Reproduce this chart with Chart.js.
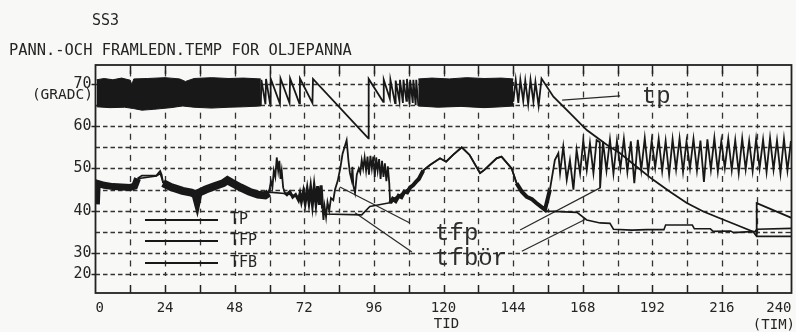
<!DOCTYPE html>
<html><head><meta charset="utf-8">
<script src="https://cdn.jsdelivr.net/npm/chart.js@4/dist/chart.umd.min.js"></script>
<style>html,body{margin:0;padding:0;background:#f8f8f6}#wrap{width:796px;height:332px}</style>
</head><body><div id="wrap"><canvas id="c" width="796" height="332"></canvas></div>
<script>
// ---------- data (hours, °C) ----------
const hourTicks = [0,12,24,36,48,60,72,84,96,108,120,132,144,156,168,180,192,204,216,228,240];
const hourLabels = [0,24,48,72,96,120,144,168,192,216,240];
const tempTicks = [25,30,40,50,60,70];
const tempTickLabels = ['20','30','40','50','60','70'];
const gridTemps = [25,30,35,40,45,50,55,60,65,70];

// TP: densely oscillating periods, read as envelopes
const tpBandAUpper = [[0.4,71],[3,71.3],[6,71],[9,71.4],[12,70.9],[12.5,69.8],[13.2,71.2],[18,71.3],[24,71.5],[29,71.2],[31,70.6],[34,71.3],[40,71.5],[46,71.3],[51,71.4],[57,71.2]];
const tpBandALower = [[0.4,64.6],[5,64.4],[10,64.5],[13,64.2],[16,63.8],[20,64],[26,64.4],[30,64.8],[34,64.5],[40,64.3],[46,64.5],[51,64.6],[57,64.8]];
const tpBandBUpper = [[111.3,71.2],[116,71.4],[122,71.2],[128,71.5],[134,71.3],[140,71.4],[144.1,71.2]];
const tpBandBLower = [[111.3,64.8],[118,64.5],[126,64.7],[134,64.4],[140,64.6],[144.1,64.8]];
// TP: visible sawtooth and cooling curve
const tpPoints = [[57,64.8],[57.2,71],[58.6,65.2],[58.8,71.2],[60.2,65.3],[60.4,71.3],[63.6,65.3],[63.8,71.3],[66.9,65.5],[67.1,71.3],[70.3,65.4],[70.5,71.3],[74.8,65.5],[75,71.2],[94.1,57.1],[94.2,71.2],[99.2,65.8],[99.4,71],[101.5,66.5],[101.7,71],[103.3,65.5],[103.5,70.8],[104.8,66],[105,71],[106,65.5],[106.2,71],[107.2,66],[107.4,71.2],[108.3,65.2],[108.5,71],[109.4,65.5],[109.6,71],[110.4,65],[110.6,71],[111.3,65],
[144.1,66],[144.9,71],[145.8,65.5],[146.5,71],[147.5,66],[148.2,70.8],[149.2,65.2],[150,71],[151,65.8],[151.7,70.5],[152.8,64.8],[153.8,71.3],
[157.9,67],[163.6,63.1],[169.4,59.1],[176.3,55.6],[180.9,53.6],[186.6,50.4],[192.3,47.3],[198.1,44.5],[203.9,41.8],[209.6,39.8],[215.3,38.2],[221.1,36.6],[226.8,35],[228,33.9],[240,33.9],[240,null],[228,33.9],[228,41.8],[240,38.3]];

// TFP
const tfpPoints = [[0.3,41.5],[0.6,46.5],[3,46],[6,45.7],[9,45.6],[12,45.5],[13.5,45.8],[14.5,47.6],[16,48.3],[21,48.3],[22.3,49.4],[22.8,48.5],[23.3,46.5],[26,45.6],[30,44.7],[33,44.3],[34.5,43.8],[35,42.5],[35.5,44.2],[38,45],[41,45.8],[44,46.5],[45.5,47.2],[47,46.6],[50,45.5],[53,44.5],[56,43.8],[58.5,43.6],[59.8,44.2],
[60.5,47],[61,45.5],[61.5,49.5],[62,48],[62.5,52.6],[63,49.5],[63.4,51.8],[63.8,47.5],[64.2,49.5],[64.7,45.5],[65.3,44.2],
[66,43.8],[67,44.5],[68,43.2],[69,43.8],[70,42.5],[70.5,44],[71,42.2],[71.7,44.5],[72.3,41.8],[73,45],[73.6,42],[74.2,45.3],[74.8,41.5],[75.4,45.5],[76,41.8],[76.6,45.8],[77.2,41.4],[77.8,46],[78.3,40.5],[78.6,37.8],[79,41],[79.5,38.5],[80,42],[80.6,40],[81.2,43],[82,42.5],[82.6,45],[83.5,47],[84.4,50],[85.2,53.5],[86.6,56.7],[87.2,52],[87.7,49],[88.3,47.3],[88.6,50.4],[88.9,46],[89.5,44.2],[90.1,48.5],[90.8,50],[91.3,49],[91.8,52],[92.3,50],[92.8,52.6],[93.3,49.5],[93.8,52.8],[94.3,48.5],[94.8,53],[95.3,50],[95.8,52.8],[96.3,48],[96.8,52.6],[97.3,49.5],[97.8,52.2],[98.3,47.5],[98.8,51.8],[99.3,48],[99.8,51.2],[100.3,47],[100.8,50.5],[101.3,46.5],[101.6,41.8],
[102.5,42.8],[103.5,42.3],[104.5,43.5],[105.5,43.2],[106.5,44.5],[107.5,44.3],[108.5,45.5],[109.5,46],[110.5,46.8],[111.5,47.5],[113,49.5],[115.3,50.8],[118.8,52.4],[120.9,51.6],[123.3,53.2],[126.3,55],[129,53.2],[132.6,48.9],[134,49.6],[138.3,52.4],[140,52.8],[143.5,50],[145.2,46.5],[147,44.5],[148.7,43.3],[150.5,42.7],[152,41.8],[153.5,41],[155,40.2],
[156.7,45],[158.4,52],[159.6,53.6],[160.2,48.9],[161.3,55.2],[162.5,47.3],[163.6,52],[164.8,45],[165.9,54.4],[167.1,48.9],[168.2,56.7],[169.4,49.6],[170.5,56],[171.7,48.9],[172.8,56.7],[173.9,56.2],[174,45.3],
[175,56.3],[176.2,49.5],[177.4,56.8],[178.6,48.8],[179.8,56.5],[181,50],[182.2,57],[183.4,49.2],[184.6,56.4],[185.8,46.5],[187,56.8],[188.2,49.6],[189.4,57.2],[190.6,49],[191.8,56.6],[193,50.2],[194.2,57],[195.4,49.4],[196.6,56.5],[197.8,48.5],[199,56.9],[200.2,49.8],[201.4,57.1],[202.6,49.2],[203.8,56.4],[205,50],[206.2,57],[207.4,49.5],[208.6,56.6],[209.8,46.8],[211,56.9],[212.2,49.7],[213.4,57.2],[214.6,49.3],[215.8,56.5],[217,50.1],[218.2,57],[219.4,49.6],[220.6,56.7],[221.8,48.9],[223,57.1],[224.2,49.8],[225.4,56.5],[226.6,49.4],[227.8,57],[229,50],[230.2,56.8],[231.4,49.2],[232.6,57.2],[233.8,49.7],[235,56.6],[236.2,48.8],[237.4,57],[238.6,49.5],[239.8,56.5]];

// TFB (börvärde)
const tfbPoints = [[0.6,46],[5,45.8],[10,45.6],[13.5,45.8],[15,47.6],[21,48.2],[22.3,48.8],[23.3,46.8],[28,45.4],[34,44.3],[38,44.8],[42,45.8],[45.5,47],[50,45.2],[55,44.2],[60,44.4],[66,44],[70,43.3],[75,43],[77.8,43],[79,39.2],[91.8,39],[94.6,41],[101,41.8],[101.6,41.8],[102.5,42.8],[104.5,43.5],[106.5,44.5],[108.5,45.5],[110.5,46.8],[113,49.5],[115.3,50.8],[118.8,52.4],[120.9,51.6],[123.3,53.2],[126.3,55],[129,53.2],[132.6,48.9],[134,49.6],[138.3,52.4],[140,52.8],[143.5,50],[145.2,46.5],[148.7,43.3],[152,41.8],[155,40],[156,39.9],[166,39.6],[169.4,37.8],[174,37.1],[177.4,37],[178.6,35.6],[185,35.4],[190,35.5],[196,35.5],[196.6,36.6],[205.8,36.6],[206.5,35.7],[212,35.7],[213,35.1],[219,35.2],[220,34.8],[227.5,35.1],[228,35.6],[240,35.8]];

// hand-drawn pointer lines (hours, °C)
const pointerTp = [[160.9,66.2],[180.9,67.2]];
const pointerTfpLeft = [[84.3,45.6],[108.4,37.1]];
const pointerTfborLeft = [[89.5,39.5],[109.1,30.2]];
const pointerTfpRight = [[146.4,35.4],[174,45.4]];
const pointerTfborRight = [[147,30.4],[168.8,37.9]];
const handLabels = [['tp',188.4,65.5],['tfp',117.1,33.1],['tfbör',117.1,27.1]];
const legendNames = ['TP','TFP','TFB'];

// ---------- chart ----------
const INK = '#181818';
const toXY = a => a.map(([x,y]) => ({x, y}));
const tfpThick = [[0,14.3,7],[22.9,59.8,8],[65.3,78.3,3],[101.6,112,4],[144.5,155.3,4]];
function tfpWidth(h){ for (const [a,b,w] of tfpThick) if (h>=a && h<b) return w; return undefined; }

const lineDs = (data, w, extra) => Object.assign({data: toXY(data), borderColor: INK, borderWidth: w, pointRadius: 0, fill: false, tension: 0}, extra||{});

const framePlugin = {
  id: 'frame',
  beforeDatasetsDraw(chart){
    const {ctx, chartArea: a, scales: {x, y}} = chart;
    ctx.save();
    ctx.strokeStyle = '#333'; ctx.lineWidth = 1.3;
    ctx.setLineDash([4.5, 3]);
    gridTemps.forEach(t => { const py = Math.round(y.getPixelForValue(t)) + 0.5; ctx.beginPath(); ctx.moveTo(a.left, py); ctx.lineTo(a.right - 6, py); ctx.stroke(); });
    ctx.setLineDash([]);
    gridTemps.forEach(t => { const py = Math.round(y.getPixelForValue(t)) + 0.5; ctx.beginPath(); ctx.moveTo(a.right - 6, py); ctx.lineTo(a.right, py); ctx.stroke(); });
    const half = (y.getPixelForValue(65) - y.getPixelForValue(70)) / 2;
    const y70 = y.getPixelForValue(70);
    hourTicks.forEach(h => {
      if (h === 0 || h === 240) return;
      const px = Math.round(x.getPixelForValue(h)) + 0.5;
      for (let k = -1; ; k++) {
        const cy = y70 + k * half;
        if (cy > a.bottom - 10) break;
        const len = (k % 2 === 0) ? 4 : 6;
        ctx.beginPath(); ctx.moveTo(px, Math.max(a.top, cy - len/2)); ctx.lineTo(px, cy + len/2); ctx.stroke();
      }
    });
    ctx.restore();
  },
  afterDatasetsDraw(chart){
    const {ctx, chartArea: a, scales: {x, y}} = chart;
    ctx.save();
    ctx.strokeStyle = '#222'; ctx.lineWidth = 1.8;
    ctx.strokeRect(a.left, a.top, a.right - a.left, a.bottom - a.top);
    ctx.lineWidth = 1.5;
    hourTicks.forEach(h => {
      if (h === 0 || h === 240) return;
      const px = Math.round(x.getPixelForValue(h)) + 0.5;
      ctx.beginPath(); ctx.moveTo(px, a.top); ctx.lineTo(px, a.top + 9); ctx.stroke();
      ctx.beginPath(); ctx.moveTo(px, a.bottom); ctx.lineTo(px, a.bottom - 8); ctx.stroke();
    });
    tempTicks.forEach(t => { const py = Math.round(y.getPixelForValue(t)) + 0.5; ctx.beginPath(); ctx.moveTo(a.left - 4, py); ctx.lineTo(a.left, py); ctx.stroke(); });

    ctx.fillStyle = '#252525';
    ctx.textBaseline = 'middle';
    ctx.font = '15px "DejaVu Sans Mono"';
    ctx.textAlign = 'left';
    ctx.fillText('SS3', 92, 21);
    ctx.font = '15.4px "DejaVu Sans Mono"';
    ctx.fillText('PANN.-OCH FRAMLEDN.TEMP FOR OLJEPANNA', 9, 51);
    ctx.font = '14.5px "DejaVu Sans Mono"';
    ctx.textAlign = 'right';
    ctx.fillText('(GRADC)', 93, 95);
    ctx.font = '14px "DejaVu Sans Mono"';
    ctx.textAlign = 'center';
    ctx.fillText('TID', x.getPixelForValue(120) + 3, 324);
    ctx.textAlign = 'right';
    ctx.fillText('(TIM)', 795, 325);

    const ly = [220, 241, 263];
    ctx.lineWidth = 2; ctx.strokeStyle = INK;
    ly.forEach(py => { ctx.beginPath(); ctx.moveTo(145, py); ctx.lineTo(218, py); ctx.stroke(); });
    ctx.font = '15px "DejaVu Sans Mono"'; ctx.textAlign = 'left';
    ly.forEach((py, i) => ctx.fillText(legendNames[i], 230, py));

    ctx.font = '24px "Liberation Mono"';
    ctx.textBaseline = 'alphabetic';
    ctx.fillStyle = '#2e2e2e';
    handLabels.forEach(([t, h, v]) => ctx.fillText(t, x.getPixelForValue(h), y.getPixelForValue(v)));
    ctx.restore();
  }
};

new Chart(document.getElementById('c'), {
  type: 'line',
  data: { datasets: [
    lineDs(tpBandAUpper, 1, {fill: '+1', backgroundColor: INK}),
    lineDs(tpBandALower, 1),
    lineDs(tpBandBUpper, 1, {fill: '+1', backgroundColor: INK}),
    lineDs(tpBandBLower, 1),
    lineDs(tpPoints, 1.8),
    lineDs(tfpPoints, 1.8, {segment: {borderWidth: c => tfpWidth(c.p0.parsed.x)}}),
    lineDs(tfbPoints, 1.6),
    lineDs(pointerTp, 1.2, {borderColor: '#2a2a2a'}),
    lineDs(pointerTfpLeft, 1.2, {borderColor: '#2a2a2a'}),
    lineDs(pointerTfborLeft, 1.2, {borderColor: '#2a2a2a'}),
    lineDs(pointerTfpRight, 1.2, {borderColor: '#2a2a2a'}),
    lineDs(pointerTfborRight, 1.2, {borderColor: '#2a2a2a'})
  ]},
  options: {
    responsive: false, animation: false, devicePixelRatio: 1,
    layout: { padding: { left: 0, right: 4.5, top: 65, bottom: 0 } },
    plugins: { legend: { display: false }, tooltip: { enabled: false } },
    elements: { point: { radius: 0 }, line: { borderJoinStyle: 'miter' } },
    scales: {
      x: {
        type: 'linear', min: 0, max: 240,
        afterFit(s){ s.height = 39; s.paddingLeft = 0; s.paddingRight = 0; },
        afterBuildTicks(s){ s.ticks = hourTicks.map(v => ({value: v})); },
        grid: { display: false }, border: { display: false },
        ticks: { autoSkip: false, maxRotation: 0, padding: -1, align: 'inner', color: '#252525',
          font: { family: 'DejaVu Sans Mono', size: 14 },
          callback: v => hourLabels.includes(v) ? String(v) : '' }
      },
      y: {
        type: 'linear', min: 20.5, max: 74.5,
        afterFit(s){ s.width = 95.5; s.paddingTop = 0; s.paddingBottom = 0; },
        afterBuildTicks(s){ s.ticks = tempTicks.map(v => ({value: v})); },
        grid: { display: false, drawTicks: false }, border: { display: false },
        ticks: { padding: 4, color: '#252525',
          font: { family: 'DejaVu Sans Mono', size: 15 },
          callback: v => tempTickLabels[tempTicks.indexOf(v)] }
      }
    }
  },
  plugins: [framePlugin]
});
</script></body></html>
